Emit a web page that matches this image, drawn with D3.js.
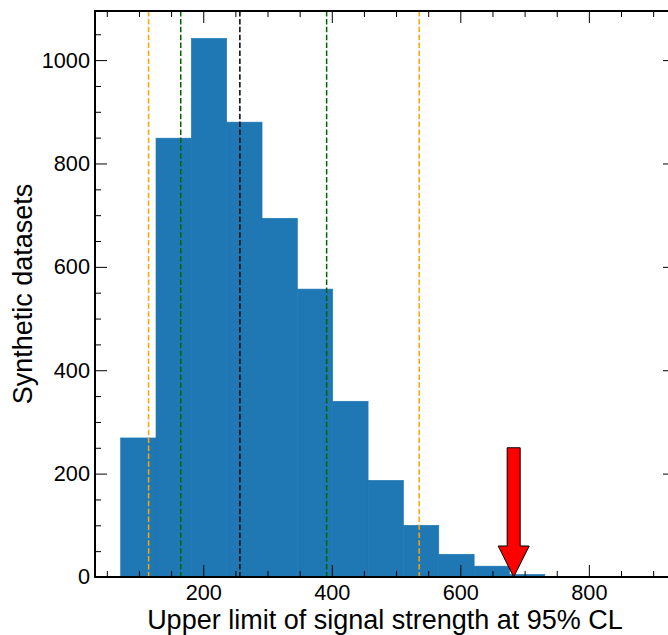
<!DOCTYPE html>
<html>
<head>
<meta charset="utf-8">
<script src="https://cdnjs.cloudflare.com/ajax/libs/d3/7.8.5/d3.min.js"></script>
<style>
  body { margin: 0; background: #fff; }
  text { font-family: "Liberation Sans", Arial, Helvetica, sans-serif; fill: #000; }
  .axis path { display: none; }
  .axis line { stroke: #000; stroke-width: 1; }
</style>
</head>
<body>
<div id="chart"></div>
<script>
// histogram of upper limits from synthetic datasets
const binLefts = [71.5, 126.5, 181.5, 236.5, 291.5, 346.5, 401.5, 456.5, 511.5, 566.5, 621.5, 676.5];
const binWidth = 55;
const counts = [269, 849, 1042, 880, 694, 557, 340, 187, 100, 44, 21, 5];

// reference lines: 2.5%, 16%, median, 84%, 97.5%
const lineValues = [115, 165, 257, 392, 536];
const lineColors = ['orange', 'darkgreen', 'black', 'darkgreen', 'orange'];

// observed limit (arrow)
const observed = 683;
const arrowTop = 250;

const xMajor = [200, 400, 600, 800];
const yMajor = [0, 200, 400, 600, 800, 1000];
const xDomain = [31.6, 934];
const yDomain = [0, 1095];

const width = 668, height = 635;
const margin = {top: 11, right: -7, bottom: 58, left: 95};
const innerW = width - margin.left - margin.right,
    innerH = height - margin.top - margin.bottom;

const svg = d3.select('#chart').append('svg')
    .attr('width', width)
    .attr('height', height);

const g = svg.append('g')
    .attr('transform', 'translate(' + margin.left + ',' + margin.top + ')');

const x = d3.scaleLinear().domain(xDomain).range([0, innerW]);
const y = d3.scaleLinear().domain(yDomain).range([innerH, 0]);

const xMinor = d3.range(50, 950, 50).filter(v => v % 200 !== 0);
const yMinor = d3.range(50, 1100, 50).filter(v => v % 200 !== 0);

// bars
g.append('g')
    .selectAll('rect')
    .data(counts)
    .enter().append('rect')
    .attr('x', (d, i) => x(binLefts[i]))
    .attr('width', (d, i) => x(binLefts[i] + binWidth) - x(binLefts[i]))
    .attr('y', d => y(d))
    .attr('height', d => y(0) - y(d))
    .attr('fill', '#1f77b4')
    .attr('stroke', '#1f77b4')
    .attr('stroke-width', 0.6);

// dashed vertical lines
g.append('g')
    .selectAll('line')
    .data(lineValues)
    .enter().append('line')
    .attr('x1', d => x(d))
    .attr('x2', d => x(d))
    .attr('y1', 0)
    .attr('y2', innerH)
    .attr('stroke', (d, i) => lineColors[i])
    .attr('stroke-width', 1.5)
    .attr('stroke-dasharray', '5.5,2.4');

// arrow
const ax = x(observed), shaftHalf = 6.5, headHalf = 15.5, headLen = 31;
const yTop = y(arrowTop), yTip = y(0);
g.append('path')
    .attr('d', 'M' + (ax - shaftHalf) + ',' + yTop +
        'L' + (ax + shaftHalf) + ',' + yTop +
        'L' + (ax + shaftHalf) + ',' + (yTip - headLen) +
        'L' + (ax + headHalf) + ',' + (yTip - headLen) +
        'L' + ax + ',' + yTip +
        'L' + (ax - headHalf) + ',' + (yTip - headLen) +
        'L' + (ax - shaftHalf) + ',' + (yTip - headLen) + 'Z')
    .attr('fill', 'red')
    .attr('stroke', '#000')
    .attr('stroke-width', 1);

// axes with inward ticks
const fontSize = '21.7px';
function addAxis(axisFn, scale, vals, size, transform, labels) {
    const a = axisFn(scale).tickValues(vals).tickSize(-size)
        .tickPadding(labels ? (axisFn === d3.axisBottom ? 8 : 5) : 0)
        .tickFormat(labels ? d3.format('d') : '');
    const sel = g.append('g').attr('class', 'axis').attr('transform', transform).call(a);
    sel.selectAll('text').style('font-size', fontSize);
    return sel;
}
addAxis(d3.axisBottom, x, xMajor, 12, 'translate(0,' + innerH + ')', true);
addAxis(d3.axisBottom, x, xMinor, 6, 'translate(0,' + innerH + ')', false);
addAxis(d3.axisTop, x, xMajor, 12, 'translate(0,0)', false);
addAxis(d3.axisTop, x, xMinor, 6, 'translate(0,0)', false);
addAxis(d3.axisLeft, y, yMajor, 12, 'translate(0,0)', true);
addAxis(d3.axisLeft, y, yMinor, 6, 'translate(0,0)', false);
addAxis(d3.axisRight, y, yMajor, 12, 'translate(' + innerW + ',0)', false);
addAxis(d3.axisRight, y, yMinor, 6, 'translate(' + innerW + ',0)', false);

// frame
g.append('rect')
    .attr('width', innerW)
    .attr('height', innerH)
    .attr('fill', 'none')
    .attr('stroke', '#000')
    .attr('stroke-width', 2);

// labels
svg.append('text')
    .attr('x', margin.left + (x(xDomain[1]) - x(xDomain[0])) / 2)
    .attr('y', 629)
    .attr('text-anchor', 'middle')
    .style('font-size', '27px')
    .text('Upper limit of signal strength at 95% CL');

svg.append('text')
    .attr('transform', 'translate(32,' + (margin.top + innerH / 2) + ') rotate(-90)')
    .attr('text-anchor', 'middle')
    .style('font-size', '27px')
    .text('Synthetic datasets');
</script>
</body>
</html>
